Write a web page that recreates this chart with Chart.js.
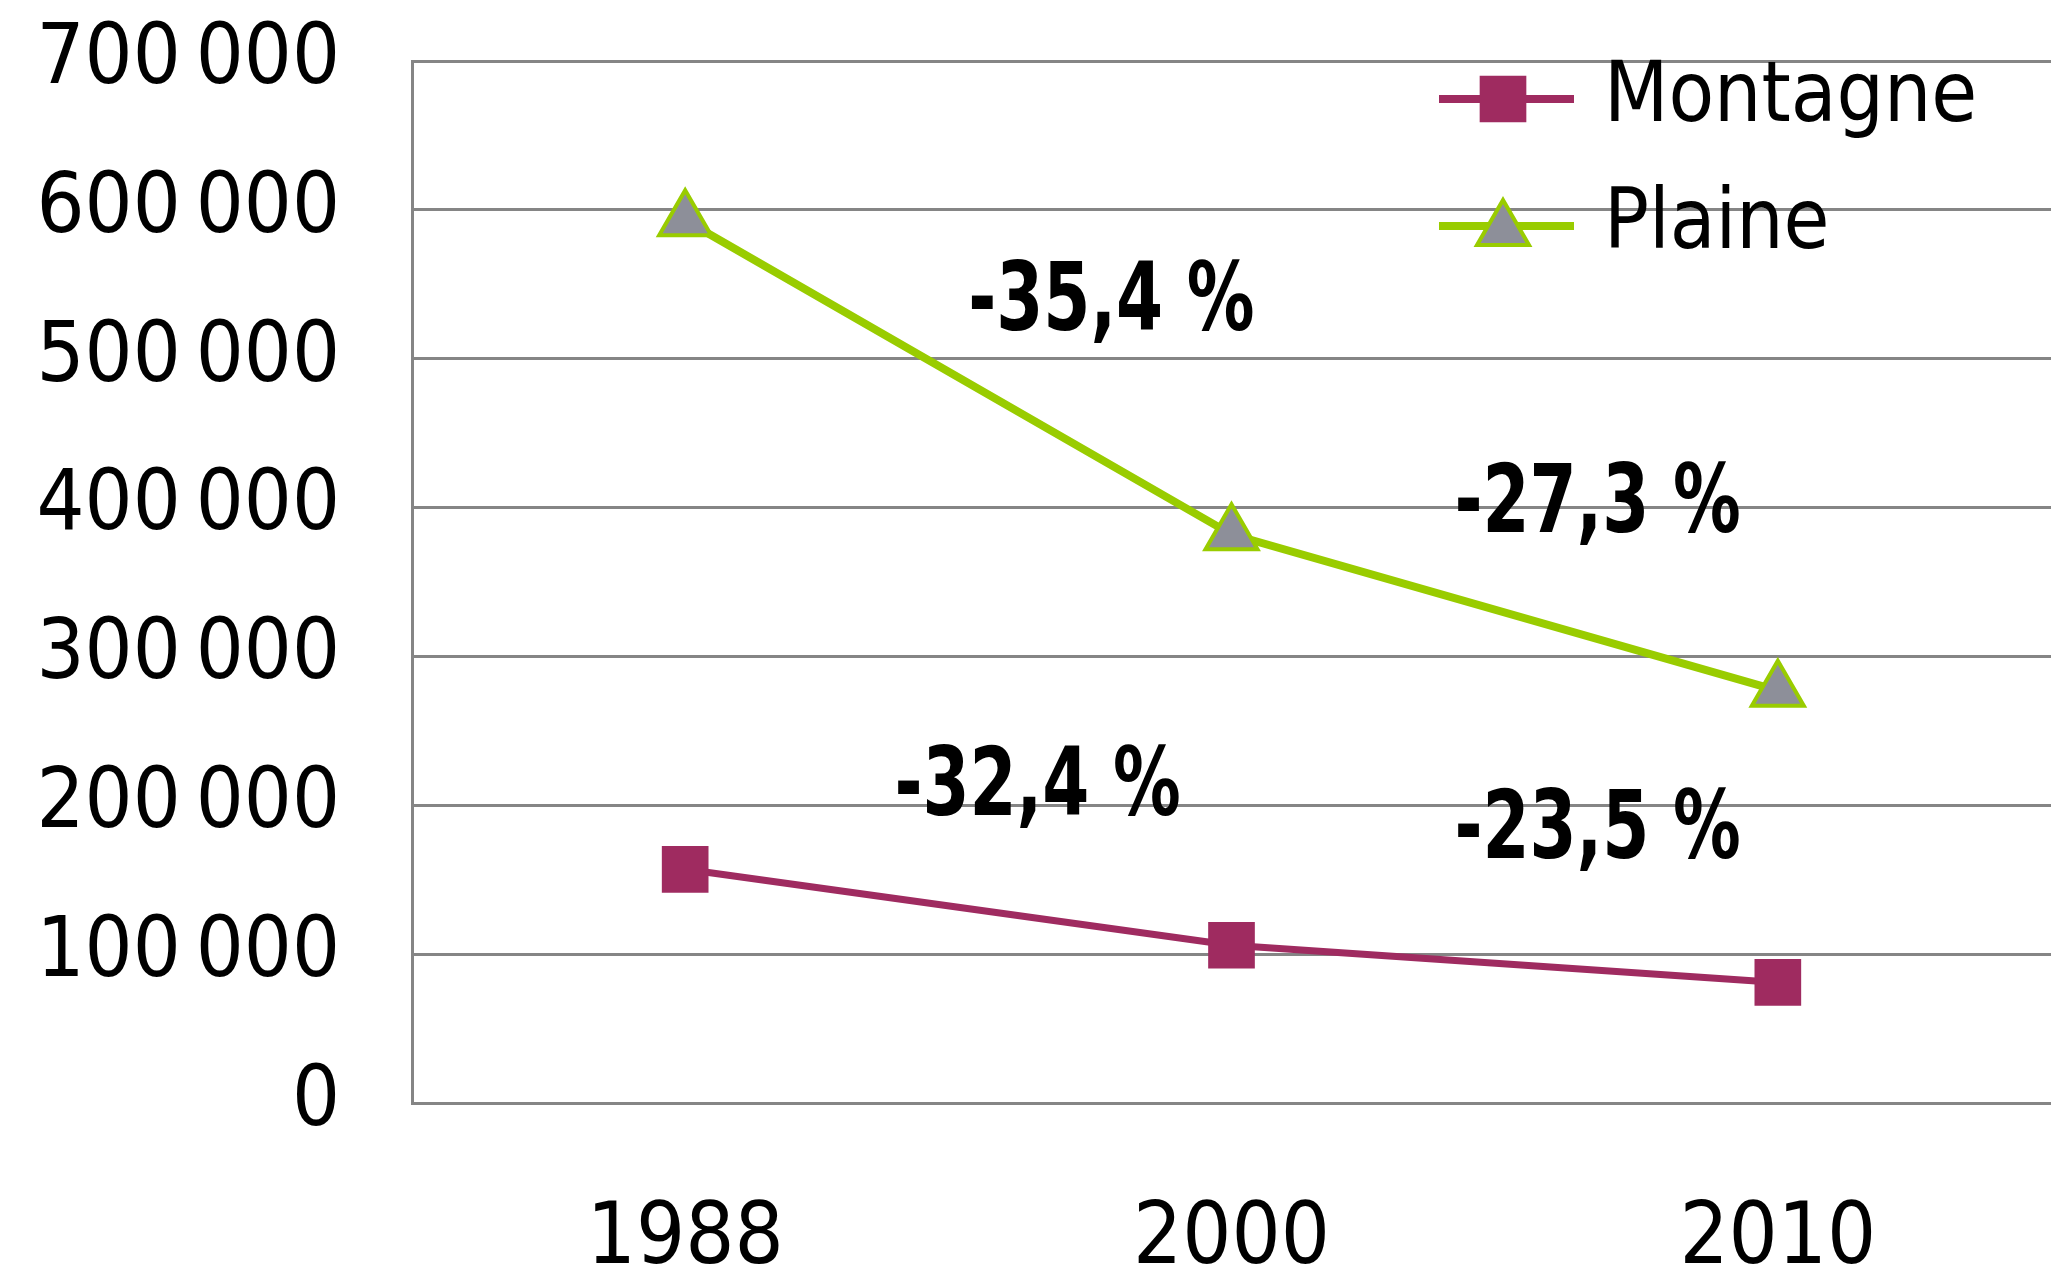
<!DOCTYPE html>
<html>
<head>
<meta charset="utf-8">
<script src="https://cdn.jsdelivr.net/npm/chart.js@4/dist/chart.umd.min.js"></script>
<style>
  html, body { margin: 0; padding: 0; background: #fff; }
  canvas { display: block; }
</style>
</head>
<body>
<canvas id="chart" width="2051" height="1269"></canvas>
<script>
// Data
const years = ['1988', '2000', '2010'];
const montagne = [157000, 106000, 81000];
const plaine = [593000, 382000, 277000];
const variations = ['-35,4 %', '-27,3 %', '-32,4 %', '-23,5 %'];

// where each variation label sits (category index, value)
const labelAnchors = [[0.78, 536000], [1.67, 400000], [0.645, 210000], [1.67, 181000]];

const purple = '#9f2b60';
const green = '#99cc00';
const font = 'DejaVu Sans Condensed, DejaVu Sans, sans-serif';

function fmt(v) {
    // thin space as thousands separator, like the original
    return String(v).replace(/\B(?=(\d{3})+(?!\d))/g, '\u2009');
}

// Legend drawn inside the plot, top right
const legendPlugin = {
    id: 'insideLegend',
    afterDatasetsDraw(chart) {
        const ctx = chart.ctx;
        const rows = [99, 226];
        chart.data.datasets.forEach((ds, i) => {
            const y = rows[i];
            ctx.save();
            ctx.strokeStyle = ds.borderColor;
            ctx.lineWidth = 8;
            ctx.beginPath();
            ctx.moveTo(1439, y);
            ctx.lineTo(1574, y);
            ctx.stroke();
            ctx.fillStyle = ds.pointBackgroundColor;
            ctx.strokeStyle = ds.pointBorderColor;
            ctx.lineWidth = ds.pointBorderWidth;
            Chart.helpers.drawPoint(ctx, {
                pointStyle: ds.pointStyle,
                radius: ds.pointRadius,
                rotation: 0,
                borderWidth: ds.pointBorderWidth
            }, 1503, ds.pointStyle === 'triangle' ? y + 4 : y);
            ctx.fillStyle = '#000';
            ctx.font = '83px ' + font;
            ctx.textBaseline = 'middle';
            ctx.textAlign = 'left';
            ctx.fillText(ds.label, 1604, y);
            ctx.restore();
        });
    }
};

// Percentage change labels
const variationPlugin = {
    id: 'variations',
    afterDatasetsDraw(chart) {
        const ctx = chart.ctx;
        const xs = chart.scales.x;
        const ys = chart.scales.y;
        variations.forEach((txt, i) => {
            const px = xs.getPixelForValue(labelAnchors[i][0]);
            const py = ys.getPixelForValue(labelAnchors[i][1]);
            ctx.save();
            ctx.translate(px, py);
            ctx.scale(0.8, 1);
            ctx.fillStyle = '#000';
            ctx.font = 'bold 94px ' + font;
            ctx.textAlign = 'center';
            ctx.textBaseline = 'middle';
            ctx.fillText(txt, 0, 0);
            ctx.restore();
        });
    }
};

new Chart(document.getElementById('chart').getContext('2d'), {
    type: 'line',
    data: {
        labels: years,
        datasets: [{
            label: 'Montagne',
            data: montagne,
            borderColor: purple,
            borderWidth: 7,
            pointStyle: 'rect',
            pointRadius: 33,
            pointBackgroundColor: purple,
            pointBorderColor: purple,
            pointBorderWidth: 0,
            tension: 0
        }, {
            label: 'Plaine',
            data: plaine,
            borderColor: green,
            borderWidth: 8,
            pointStyle: 'triangle',
            pointRadius: 30,
            pointBackgroundColor: '#8d8f99',
            pointBorderColor: green,
            pointBorderWidth: 4,
            tension: 0
        }]
    },
    options: {
        responsive: false,
        devicePixelRatio: 1,
        animation: false,
        layout: { autoPadding: false, padding: { top: 61, right: 0, left: 0, bottom: 0 } },
        plugins: {
            legend: { display: false },
            tooltip: { enabled: false }
        },
        scales: {
            x: {
                offset: true,
                grid: { display: false, drawTicks: false },
                border: { color: '#858585', width: 3 },
                ticks: {
                    color: '#000',
                    font: { family: font, size: 86 },
                    padding: 86,
                    maxRotation: 0
                },
                afterFit(scale) {
                    scale.height = 166;
                    scale.paddingLeft = 0;
                    scale.paddingRight = 0;
                }
            },
            y: {
                min: 0,
                max: 700000,
                grid: { color: '#858585', lineWidth: 3, drawTicks: false },
                border: { color: '#858585', width: 3 },
                ticks: {
                    stepSize: 100000,
                    color: '#000',
                    font: { family: font, size: 84 },
                    padding: 72,
                    callback: v => fmt(v)
                },
                afterFit(scale) {
                    scale.width = 412;
                    scale.paddingTop = 0;
                    scale.paddingBottom = 0;
                }
            }
        }
    },
    plugins: [legendPlugin, variationPlugin]
});
</script>
</body>
</html>
